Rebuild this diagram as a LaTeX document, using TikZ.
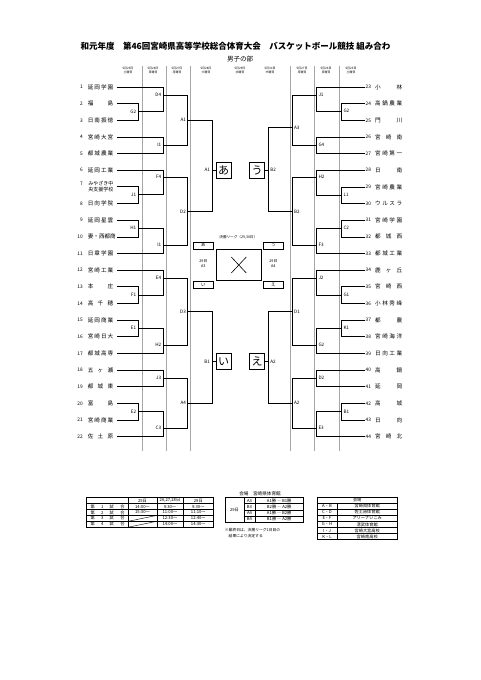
\documentclass[tikz,border=0pt]{standalone}
\usepackage{fontspec}
\setmainfont{Noto Sans CJK JP}
\usepackage{tikz}

\def\spreadloop#1#2{#1\ifx\relax#2\else\hfill\expandafter\spreadloop\expandafter#2\fi}
\newcommand\spreadname[2][25.5pt]{\makebox[#1][s]{\expandafter\spreadloop#2\relax}}

\begin{document}
\begin{tikzpicture}[x=1pt,y=-1pt,
  team/.style={font=\fontsize{5.6}{6}\selectfont,inner xsep=3.5pt,inner ysep=1pt},
  num/.style={font=\fontsize{4.8}{5}\selectfont,inner sep=1pt},
  game/.style={font=\fontsize{4.6}{5}\selectfont,inner sep=0.6pt},
  wire/.style={line width=0.65pt},
  court/.style={draw=gray!70,line width=0.7pt},
  corner/.style={draw,line width=1pt,minimum width=15pt,minimum height=16pt,inner sep=0pt,font=\fontsize{11}{11}\selectfont},
  tag/.style={draw,line width=0.6pt,minimum width=20pt,minimum height=7pt,inner sep=0pt,font=\fontsize{4.5}{5}\selectfont},
  tiny/.style={font=\fontsize{3}{3.6}\selectfont,inner sep=0pt,align=center},
  cell/.style={font=\fontsize{4.2}{4.5}\selectfont,inner sep=0pt}]
\fill[white] (0,0) rectangle (481,680);
\useasboundingbox (0,0) rectangle (481,680);

% title
\node[font=\fontsize{8.5}{9}\selectfont\bfseries,anchor=west] (title) at (77,46) {和元年度　第46回宮崎県高等学校総合体育大会　バスケットボール競技 組み合わ};
\node[font=\fontsize{6.5}{7}\selectfont] (division) at (240,59.5) {男子の部};

% day headers
\foreach \x/\dnum/\wday [count=\k] in {128/25/土,153/26/日,177/27/月,206/28/火,240/29/水,270/30/木,302/27/月,326/26/日,351/25/土}
  \node[tiny] (day\k) at (\x,70.5) {5月{\dnum}日\\{\wday}曜日};

% court lines
\foreach \x in {142,166,190,290,314,339}
  \draw[court] (\x,66) -- (\x,451);

% left teams
\foreach \i/\name in {1/延岡学園,2/福島,3/日南振徳,4/宮崎大宮,5/都城農業,6/延岡工業,8/日向学院,9/延岡星雲,10/妻・西都商,11/日章学園,12/宮崎工業,13/本庄,14/高千穂,15/延岡商業,16/宮崎日大,17/都城高専,18/五ヶ瀬,19/都城東,20/富島,21/宮崎商業,22/佐土原}{
  \node[num,anchor=east] (n\i) at (84,{87+(\i-1)*16.65}) {\i};
  \node[team,anchor=east] (t\i) at (117,{87+(\i-1)*16.65}) {\spreadname{\name}};
}
\node[num,anchor=east] (n7) at (84,183.3) {7};
\node[team,anchor=east,align=left,font=\fontsize{5}{6.4}\selectfont] (t7) at (117,186.7) {みやざき中\\央支援学校};

% right teams
\foreach \i/\name in {23/小林,24/高鍋農業,25/門川,26/宮崎南,27/宮崎第一,28/日南,29/宮崎農業,30/ウルスラ,31/宮崎学園,32/都城西,33/都城工業,34/鹿ヶ丘,35/宮崎西,36/小林秀峰,37/都農,38/宮崎海洋,39/日向工業,40/高鍋,41/延岡,42/高城,43/日向,44/宮崎北}{
  \node[num,anchor=west] (n\i) at (364.5,{87+(\i-23)*16.65}) {\i};
  \node[team,anchor=west,inner xsep=1.5pt] (t\i) at (373.5,{87+(\i-23)*16.65}) {\spreadname[27pt]{\name}};
}

% left games
\foreach \id/\txt/\x/\y/\a/\b in {
  LG2/G2/138/111.7/t2/t3, LJ1/J1/138/194.5/t7/t8, LH1/H1/138/228.3/t9/t10,
  LF1/F1/138/295/t13/t14, LE1/E1/138/328.3/t15/t16, LE2/E2/138/411.7/t20/t21,
  LD4/D4/163/95/t1/LG2, LI1/I1/163/145/t4/t5, LF4/F4/163/177.3/t6/LJ1,
  LI2/I1/163/245/LH1/t11, LE4/E4/163/278.3/t12/LF1, LH2/H2/163/345/LE1/t17,
  LJ3/J3/163/378.3/t18/t19, LC3/C3/163/428.3/LE2/t22,
  LA1/A1/187.7/120/LD4/LI1, LD2/D2/187.7/211.7/LF4/LI2,
  LD3/D3/187.7/311.7/LE4/LH2, LA4/A4/187.7/403.3/LJ3/LC3}{
  \coordinate (\id) at (\x,\y);
  \draw[wire] (\a) -| (\id);
  \draw[wire] (\b) -| (\id);
  \node[game,anchor=east] (\id-lbl) at ([xshift=-1pt]\id) {\txt};
}

% right games
\foreach \id/\txt/\x/\y/\a/\b in {
  RG2/G2/341.7/111.1/n24/n25, RL1/L1/341.7/195/n29/n30, RC2/C2/341.7/228.3/n31/n32,
  RG1/G1/341.7/295/n35/n36, RK1/K1/341.7/328.3/n37/n38, RB1/B1/341.7/411.7/n42/n43,
  RJ1/J1/316.7/95/n23/RG2, RG4/G4/316.7/145/n26/n27, RH2/H2/316.7/177.3/n28/RL1,
  RF3/F3/316.7/245/RC2/n33, RJ2/J2/316.7/278.3/n34/RG1, RG2b/G2/316.7/345/RK1/n39,
  RD2/D2/316.7/378.3/n40/n41, RE3/E3/316.7/428.3/RB1/n44,
  RA3/A3/292.3/127.7/RJ1/RG4, RB2/B2/292.3/211.7/RH2/RF3,
  RD1/D1/292.3/311.7/RJ2/RG2b, RA2/A2/292.3/403.3/RD2/RE3}{
  \coordinate (\id) at (\x,\y);
  \draw[wire] (\a) -| (\id);
  \draw[wire] (\b) -| (\id);
  \node[game,anchor=west] (\id-lbl) at ([xshift=1pt]\id) {\txt};
}

% block winners
\coordinate (semiA) at (212,170);
\coordinate (semiI) at (212,361.7);
\coordinate (semiU) at (268.3,170);
\coordinate (semiE) at (268.3,361.7);
\draw[wire] (LA1) -| (semiA);  \draw[wire] (LD2) -| (semiA);
\draw[wire] (LD3) -| (semiI);  \draw[wire] (LA4) -| (semiI);
\draw[wire] (RA3) -| (semiU);  \draw[wire] (RB2) -| (semiU);
\draw[wire] (RD1) -| (semiE);  \draw[wire] (RA2) -| (semiE);
\node[corner,anchor=west] (boxA) at (215.7,170) {あ};
\node[corner,anchor=west] (boxI) at (215.7,361.7) {い};
\node[corner,anchor=east] (boxU) at (265,170) {う};
\node[corner,anchor=east] (boxE) at (265,361.7) {え};
\draw[wire] (semiA) -- (boxA);  \draw[wire] (semiI) -- (boxI);
\draw[wire] (semiU) -- (boxU);  \draw[wire] (semiE) -- (boxE);
\node[game,anchor=east] (semiA-lbl) at (210.8,170) {A1};
\node[game,anchor=east] (semiI-lbl) at (210.8,361.7) {B1};
\node[game,anchor=west] (semiU-lbl) at (269.5,170) {B2};
\node[game,anchor=west] (semiE-lbl) at (269.5,361.7) {A2};

% final league
\node[tiny,font=\fontsize{3.6}{4}\selectfont] (league-title) at (238.3,237.7) {決勝リーグ（29,30日）};
\node[tag] (tagA) at (203.3,245.3) {あ};
\node[tag] (tagU) at (273.3,245.3) {う};
\node[tag] (tagI) at (203.3,285) {い};
\node[tag] (tagE) at (273.3,285) {え};
\node[draw,line width=0.6pt,minimum width=44.3pt,minimum height=31.4pt,inner sep=0pt] (league) at (238.8,265) {};
\draw[line width=0.6pt] ([shift={(-7.5,-8)}]league.center) -- ([shift={(7.5,8)}]league.center);
\draw[line width=0.6pt] ([shift={(7.5,-8)}]league.center) -- ([shift={(-7.5,8)}]league.center);
\node[tiny,font=\fontsize{3.8}{5}\selectfont] (dayA3) at (203.3,264) {29日\\A3};
\node[tiny,font=\fontsize{3.8}{5}\selectfont] (dayA4) at (273.3,264) {29日\\A4};

% time table
\draw[line width=0.5pt] (86.7,497.7) rectangle (213.3,527.2);
\foreach \y in {503.6,509.5,515.4,521.3} \draw[line width=0.4pt] (86.7,\y) -- (213.3,\y);
\foreach \x in {128.3,156.7,183.3} \draw[line width=0.4pt] (\x,497.7) -- (\x,527.2);
\draw[line width=0.4pt] (128.3,521.3) -- (156.7,515.4);
\draw[line width=0.4pt] (128.3,527.2) -- (156.7,521.3);
\node[cell] (h25) at (142.5,500.6) {25日};
\node[cell] (h26) at (170,500.6) {26,27,28日};
\node[cell] (h29) at (198.3,500.6) {29日};
\foreach \row/\ta/\tb/\tz in {1/14:00〜/9:30〜/9:30〜,2/15:30〜/11:00〜/11:10〜,3//12:30〜/12:40〜,4//14:00〜/14:30〜}{
  \node[cell] (g\row) at (107.5,{500.6+\row*5.9}) {\makebox[34pt][s]{第\hfill\row\hfill 試\hfill 合}};
  \node[cell] (g\row-25) at (142.5,{500.6+\row*5.9}) {\ta};
  \node[cell] (g\row-26) at (170,{500.6+\row*5.9}) {\tb};
  \node[cell] (g\row-29) at (198.3,{500.6+\row*5.9}) {\tz};
}

% final venue table
\node[cell,font=\fontsize{4.6}{5}\selectfont] (venue-title) at (260,493.5) {会場　宮崎県体育館};
\draw[line width=0.5pt] (225.3,497.3) rectangle (303,522.3);
\foreach \y in {503.6,509.8,516} \draw[line width=0.4pt] (243.7,\y) -- (303,\y);
\foreach \x in {243.7,255.3} \draw[line width=0.4pt] (\x,497.3) -- (\x,522.3);
\node[cell] (fday) at (234.5,509.8) {29日};
\foreach \row/\gm/\pair in {0/A3/A1勝 ― B1勝,1/B3/B2勝 ― A2勝,2/A4/A1勝 ― B2勝,3/B4/B1勝 ― A2勝}{
  \node[cell] (f\row) at (249.5,{500.5+\row*6.2}) {\gm};
  \node[cell] (f\row-m) at (279.2,{500.5+\row*6.2}) {\pair};
}
\node[cell,anchor=west,align=left,font=\fontsize{3.8}{6.6}\selectfont] (note) at (224.7,533) {※最終日は、決勝リーグ1日目の\\　結果により決定する};

% venue list
\draw[line width=0.5pt] (317,497) rectangle (397.5,539.7);
\foreach \y in {503.1,509.2,515.3,521.4,527.5,533.6} \draw[line width=0.4pt] (317,\y) -- (397.5,\y);
\draw[line width=0.4pt] (337,503.1) -- (337,539.7);
\node[cell] (vhead) at (357.2,500) {会場};
\foreach \row/\vc/\vn in {1/A・B/宮崎県体育館,2/C・D/佐土原体育館,3/E・F/アリーナいこみ,4/G・H/清武体育館,5/I・J/宮崎大宮高校,6/K・L/宮崎南高校}{
  \node[cell] (v\row) at (327,{500+\row*6.1}) {\vc};
  \node[cell] (v\row-name) at (367.2,{500+\row*6.1}) {\vn};
}
\end{tikzpicture}
\end{document}
